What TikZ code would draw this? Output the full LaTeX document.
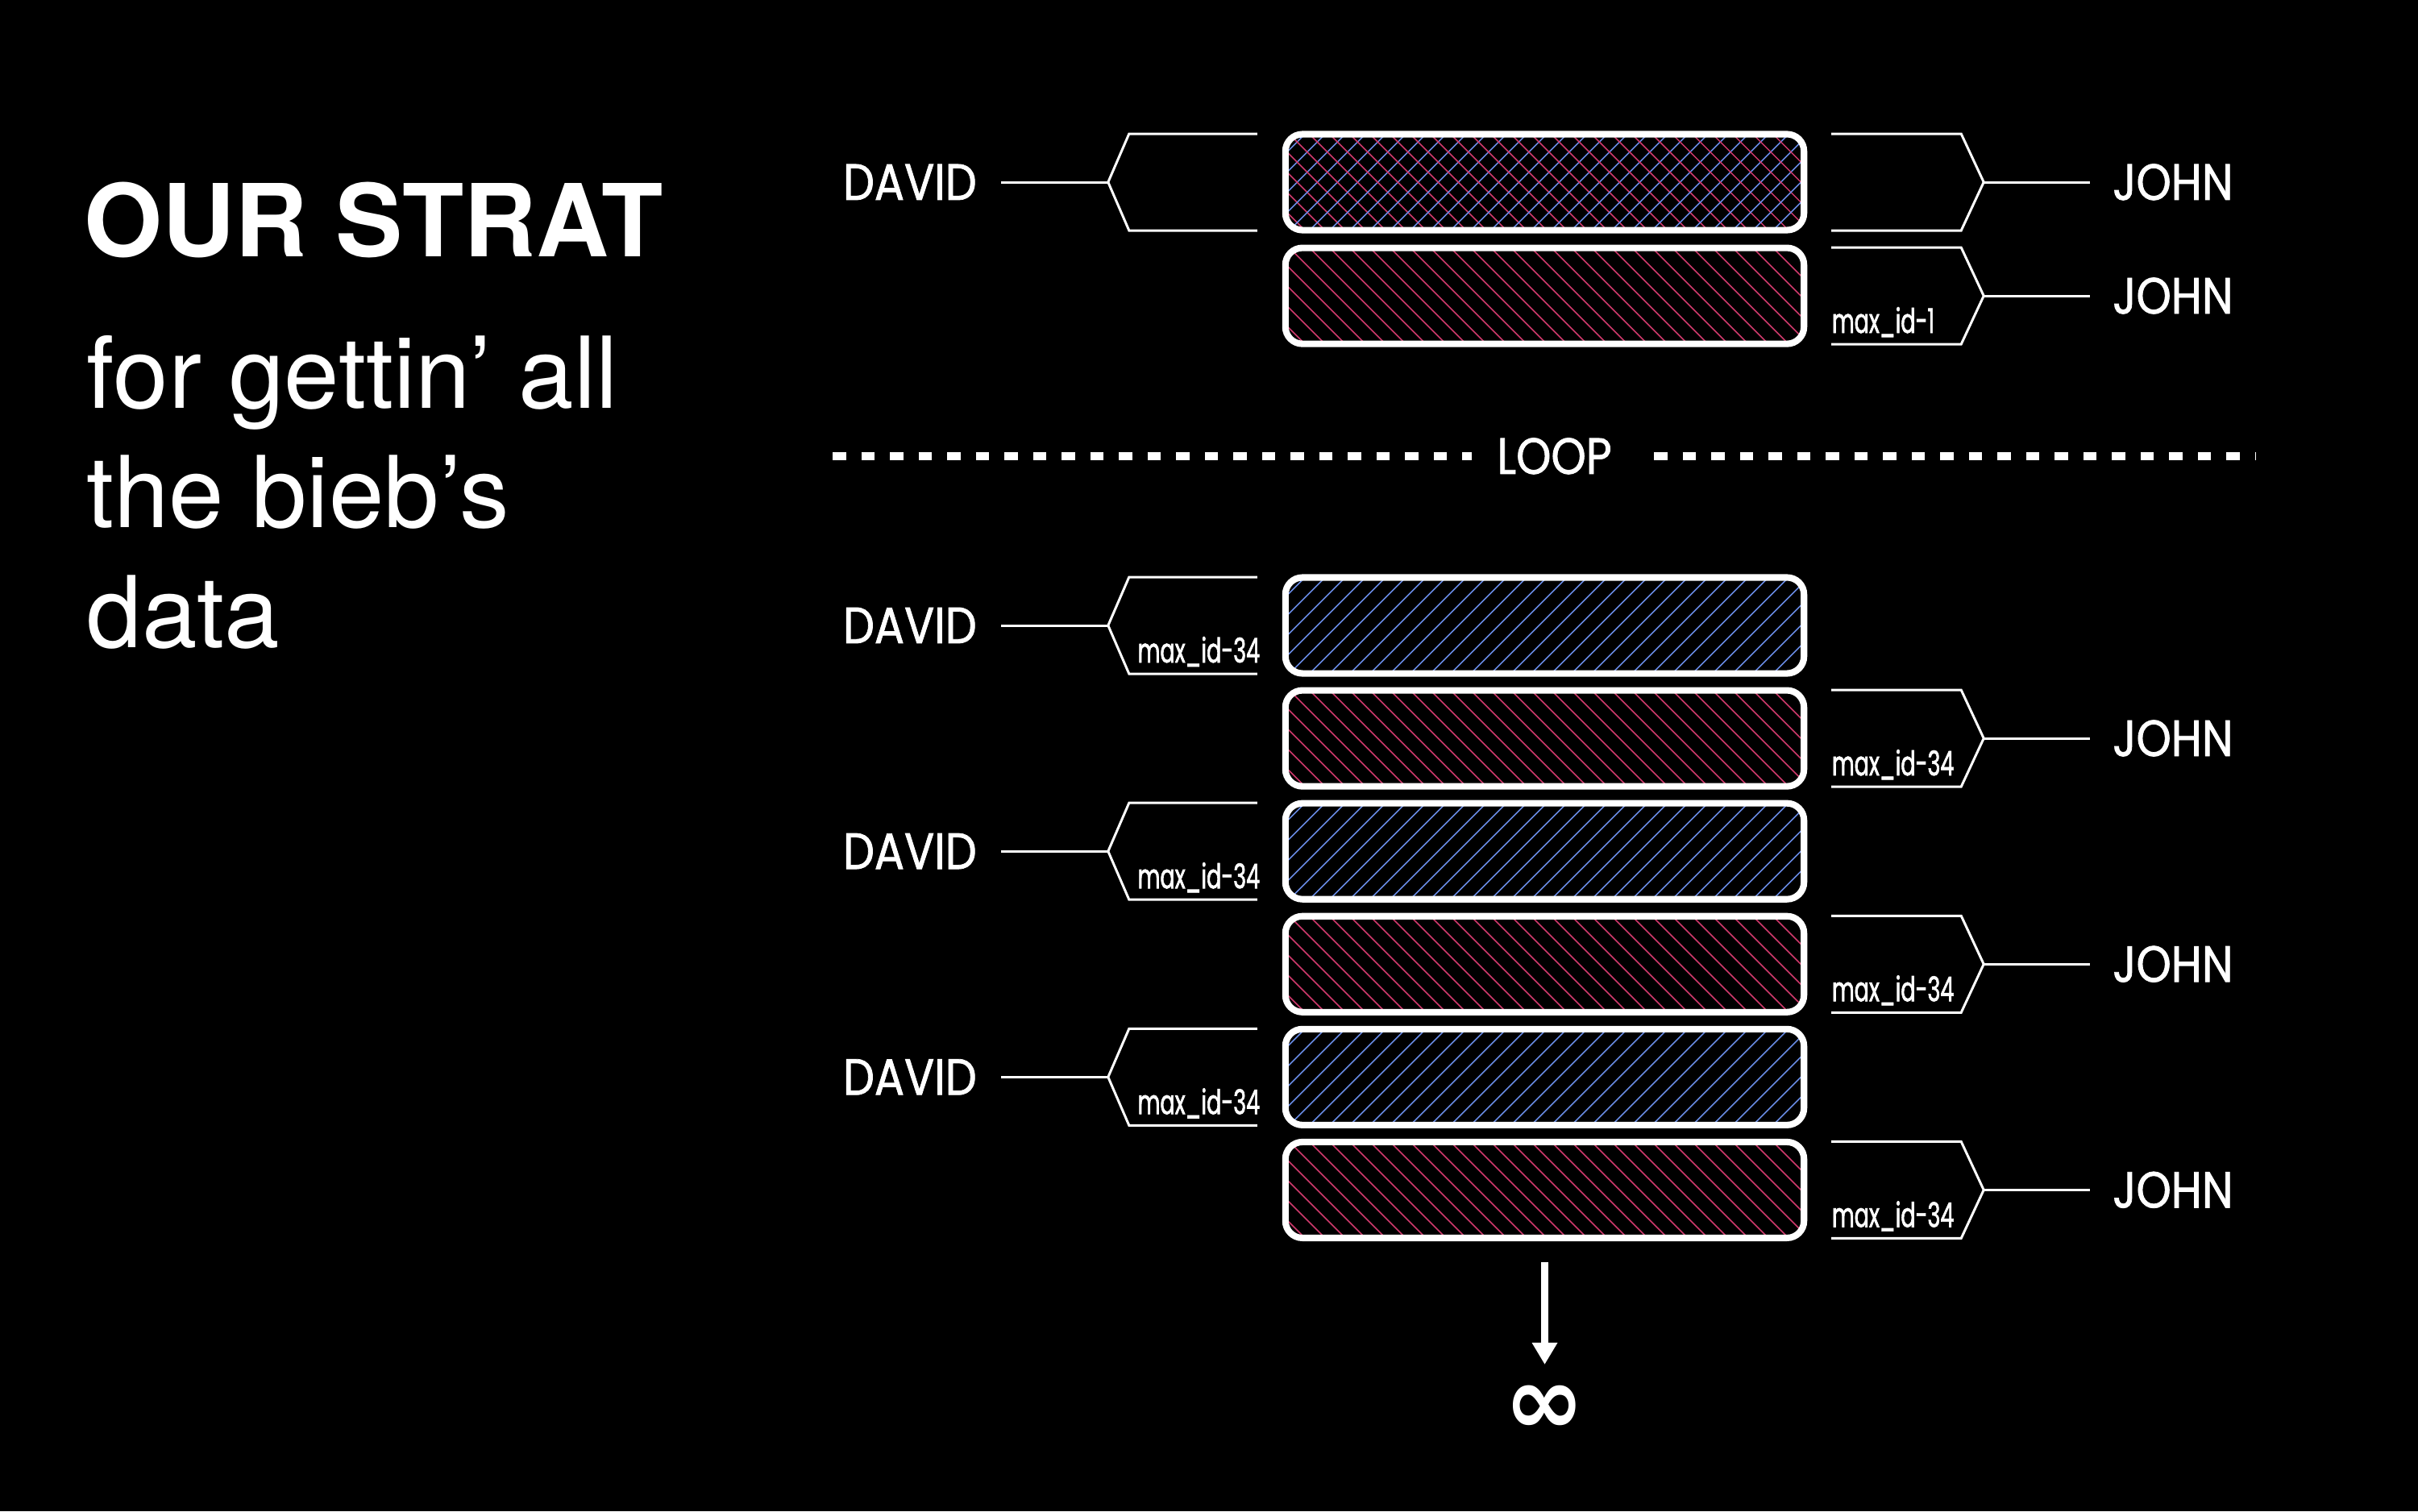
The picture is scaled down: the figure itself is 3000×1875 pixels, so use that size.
\documentclass[tikz,border=0pt]{standalone}
\usepackage{fontspec}
\setmainfont{TeX Gyre Heros}
\newfontfamily\futfont[FakeStretch=0.87,FakeBold=1.2]{Poppins}
\newfontfamily\idfont[FakeStretch=0.64,FakeBold=1.5]{Poppins}
\newfontfamily\inffont{DejaVu Sans}
\usepackage{tikz}
\usetikzlibrary{arrows.meta, positioning, calc}
\definecolor{hatchred}{RGB}{206,58,108}
\definecolor{hatchblue}{RGB}{104,138,226}

\begin{document}
\begin{tikzpicture}[
  x=0.01cm, y=-0.01cm,
  slot/.style={rectangle, draw=white, line width=2.3pt, rounded corners=6pt, minimum width=6.43cm, minimum height=1.19cm, inner sep=0pt, outer sep=0pt},
  redhatch/.style={draw=hatchred, line width=0.45pt},
  bluehatch/.style={draw=hatchblue, line width=0.45pt},
  redfill/.style={path picture={\foreach \k in {-150,-125,...,675}
    \draw[redhatch] ($(path picture bounding box.north west)+(\k,-5)$) -- ++(135,135);}},
  bluefill/.style={path picture={\foreach \k in {-150,-125,...,675}
    \draw[bluehatch] ($(path picture bounding box.south west)+(\k,5)$) -- ++(135,-135);}},
  crossfill/.style={path picture={\foreach \k in {-150,-125,...,675} {
    \draw[bluehatch] ($(path picture bounding box.south west)+(\k,5)$) -- ++(135,-135);
    \draw[redhatch] ($(path picture bounding box.north west)+(\k,-5)$) -- ++(135,135);}}},
  brace/.style={draw=white, line width=0.85pt},
  who/.style={font=\futfont\fontsize{18}{18}\selectfont, text=white, inner sep=0pt, outer sep=0pt, text height=12.5pt, text depth=0pt},
  idlab/.style={font=\idfont\fontsize{12}{12}\selectfont, text=white, inner sep=0pt},
  heading/.style={font=\bfseries\fontsize{35.5}{40}\selectfont, text=white, inner sep=0pt, anchor=base west},
  subline/.style={font=\fontsize{35}{40}\selectfont, text=white, inner sep=0pt, anchor=base west},
  loopline/.style={draw=white, line width=2.6pt, dash pattern=on 4.7pt off 5.4pt},
  flow/.style={draw=white, line width=2.3pt, -{Triangle[width=8.5pt,length=7.7pt]}}
]
  \useasboundingbox (0,0) rectangle (3000,1875);
  \fill[black] (0,0) rectangle (3000,1875);

  % left text
  \node[heading] (title) at (104,318) {OUR STRAT};
  \node[subline] (s1) at (107,506) {for gettin’ all};
  \node[subline] (s2) at (107,654) {the bieb’s};
  \node[subline] (s3) at (107,803) {data};

  % slots
  \node[slot, crossfill] (r1) at (1916.5,226) {};
  \node[slot, redfill, below=0.22cm of r1] (r2) {};
  \node[slot, bluefill] (r3) at (1916.5,776) {};
  \node[slot, redfill, below=0.21cm of r3] (r4) {};
  \node[slot, bluefill, below=0.21cm of r4] (r5) {};
  \node[slot, redfill, below=0.21cm of r5] (r6) {};
  \node[slot, bluefill, below=0.21cm of r6] (r7) {};
  \node[slot, redfill, below=0.21cm of r7] (r8) {};

  % DAVID side
  \foreach \i in {1,3,5,7} {
    \draw[brace] ($(r\i.west)+(-35,-60)$) -- ++(-159,0) -- ++(-26,60) coordinate (la\i) -- ++(26,60) -- ++(159,0);
    \node[who, left=1.63cm of la\i] (d\i) {DAVID};
    \draw[brace] (la\i) -- ([xshift=3mm]d\i.east);
  }
  \foreach \i in {3,5,7}
    \node[idlab, anchor=base east] (m\i) at ($(r\i.west)+(-31,46)$) {max\_id-34};

  % JOHN side
  \foreach \i in {1,2,4,6,8} {
    \draw[brace] ($(r\i.east)+(34,-60)$) -- ++(161,0) -- ++(28,60) coordinate (ra\i) -- ++(-28,60) -- ++(-161,0);
    \node[who, right=1.6cm of ra\i] (j\i) {JOHN};
    \draw[brace] (ra\i) -- ([xshift=-2.8mm]j\i.west);
  }
  \node[idlab, anchor=base west] (m2) at ($(r2.east)+(34,46)$) {max\_id-1};
  \foreach \i in {4,6,8}
    \node[idlab, anchor=base west] (m\i) at ($(r\i.east)+(34,46)$) {max\_id-34};

  % loop divider
  \node[who] (loop) at (1928.5,566) {LOOP};
  \coordinate (ll) at (1033,566);
  \coordinate (lr) at (2799,566);
  \draw[loopline] (ll) -- ([xshift=-1.025cm]loop.center);
  \draw[loopline] ([xshift=1.235cm]loop.center) -- (lr);

  % forever
  \node[font=\inffont\bfseries\fontsize{34}{34}\selectfont, text=white, inner sep=0pt, anchor=north] (inf) at (1916.5,1718) {∞};
  \draw[flow] ([yshift=-0.3cm]r8.south) -- ([yshift=0.25cm]inf.north);
\end{tikzpicture}
\end{document}
